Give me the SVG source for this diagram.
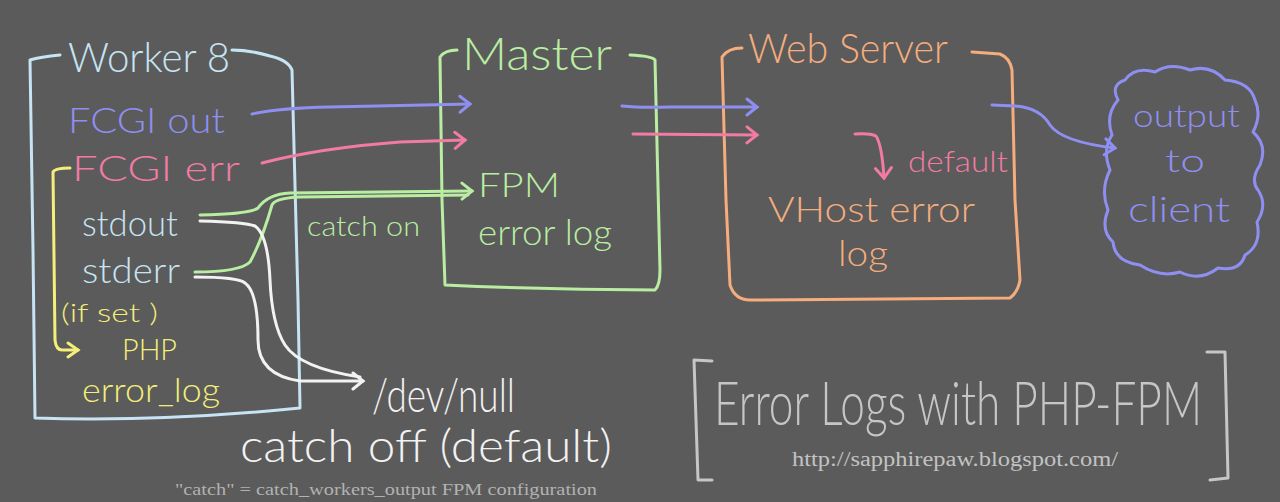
<svg xmlns="http://www.w3.org/2000/svg" width="1280" height="502" viewBox="0 0 1280 502">
<style>
.s{fill:none;stroke-width:3;stroke-linecap:round;stroke-linejoin:round}
.t{font-family:Lato,"Open Sans","Liberation Sans",sans-serif;font-weight:300}
.blue{stroke:#c6e4f3}.purple{stroke:#8f8ff2}.pink{stroke:#f27ba3}.green{stroke:#b9eea2}.orange{stroke:#f5ad7d}.yellow{stroke:#f4ef7a}.white{stroke:#f2f2f2}.gray{stroke:#c6c6c6}
.fblue{fill:#c6e4f3}.fpurple{fill:#8f8ff2}.fpink{fill:#f27ba3}.fgreen{fill:#b9eea2}.forange{fill:#f5ad7d}.fyellow{fill:#f4ef7a}.fwhite{fill:#f2f2f2}.fgray{fill:#c6c6c6}
</style>
<defs>
<marker id="aP" markerUnits="userSpaceOnUse" markerWidth="24" markerHeight="24" refX="12" refY="10" orient="auto"><path d="M2,2 L12,10 L2,18" fill="none" stroke="#8f8ff2" stroke-width="3" stroke-linecap="round"/></marker>
<marker id="aK" markerUnits="userSpaceOnUse" markerWidth="24" markerHeight="24" refX="12" refY="10" orient="auto"><path d="M2,2 L12,10 L2,18" fill="none" stroke="#f27ba3" stroke-width="3" stroke-linecap="round"/></marker>
<marker id="aG" markerUnits="userSpaceOnUse" markerWidth="24" markerHeight="24" refX="12" refY="10" orient="auto"><path d="M2,2 L12,10 L2,18" fill="none" stroke="#b9eea2" stroke-width="3" stroke-linecap="round"/></marker>
<marker id="aW" markerUnits="userSpaceOnUse" markerWidth="24" markerHeight="24" refX="12" refY="10" orient="auto"><path d="M2,2 L12,10 L2,18" fill="none" stroke="#f2f2f2" stroke-width="3" stroke-linecap="round"/></marker>
<marker id="aY" markerUnits="userSpaceOnUse" markerWidth="24" markerHeight="24" refX="12" refY="10" orient="auto"><path d="M2,3 L12,10 L2,17" fill="none" stroke="#f4ef7a" stroke-width="3" stroke-linecap="round"/></marker>
</defs>
<rect width="1280" height="502" fill="#5b5b5b"/>

<g id="worker">
<path class="s blue" d="M60,55 Q40,57 30,60 L33,250 L35,418 Q160,422 300,408 L298,300 L292,70 Q288,60 270,56 Q250,50 232,50"/>
<text class="t fblue" x="68" y="72" font-size="42" textLength="162" lengthAdjust="spacingAndGlyphs">Worker 8</text>
<text class="t fpurple" x="68" y="133" font-size="36" textLength="157" lengthAdjust="spacingAndGlyphs">FCGI out</text>
<text class="t fpink" x="72" y="181" font-size="36" textLength="168" lengthAdjust="spacingAndGlyphs">FCGI err</text>
<text class="t fblue" x="82" y="236" font-size="36" textLength="96" lengthAdjust="spacingAndGlyphs">stdout</text>
<text class="t fblue" x="82" y="283" font-size="36" textLength="98" lengthAdjust="spacingAndGlyphs">stderr</text>
<text class="t fyellow" x="61" y="322" font-size="26" textLength="97" lengthAdjust="spacingAndGlyphs">(if set )</text>
<text class="t fyellow" x="122" y="360" font-size="30" textLength="55" lengthAdjust="spacingAndGlyphs">PHP</text>
<text class="t fyellow" x="82" y="402" font-size="34" textLength="138" lengthAdjust="spacingAndGlyphs">error_log</text>
</g>

<g id="master">
<path class="s green" d="M457,50 Q445,50 440,57 L442,200 L445,285 Q550,290 655,290 Q660,285 660,270 L655,60 Q652,56 630,55"/>
<text class="t fgreen" x="462" y="70" font-size="46" textLength="150" lengthAdjust="spacingAndGlyphs">Master</text>
<text class="t fgreen" x="478" y="197" font-size="34" textLength="82" lengthAdjust="spacingAndGlyphs">FPM</text>
<text class="t fgreen" x="478" y="245" font-size="36" textLength="134" lengthAdjust="spacingAndGlyphs">error log</text>
</g>

<g id="webserver">
<path class="s orange" d="M742,48 Q728,48 722,57 L726,200 L730,285 Q735,300 750,300 L1010,298 Q1018,292 1020,280 L1015,200 L1012,70 Q1010,58 1000,54 L972,52"/>
<text class="t forange" x="748" y="63" font-size="42" textLength="200" lengthAdjust="spacingAndGlyphs">Web Server</text>
<text class="t fpink" x="908" y="172" font-size="30" textLength="100" lengthAdjust="spacingAndGlyphs">default</text>
<text class="t forange" x="768" y="222" font-size="35" textLength="207" lengthAdjust="spacingAndGlyphs">VHost error</text>
<text class="t forange" x="838" y="266" font-size="35" textLength="50" lengthAdjust="spacingAndGlyphs">log</text>
</g>

<g id="client">
<path class="s purple" d="M1118,100 Q1110,85 1125,80 Q1135,66 1155,72 Q1170,62 1190,70 Q1210,64 1225,80 Q1250,82 1255,100 Q1262,115 1253,132 Q1268,145 1260,165 Q1250,180 1258,190 Q1268,205 1257,222 Q1262,245 1245,255 Q1240,272 1218,268 Q1200,282 1180,272 Q1160,278 1140,265 Q1115,262 1113,242 Q1100,230 1108,210 Q1100,190 1110,170 Q1102,150 1112,135 Q1105,115 1118,100 Z"/>
<text class="t fpurple" x="1133" y="127" font-size="32" textLength="107" lengthAdjust="spacingAndGlyphs">output</text>
<text class="t fpurple" x="1165" y="172" font-size="32" textLength="40" lengthAdjust="spacingAndGlyphs">to</text>
<text class="t fpurple" x="1128" y="222" font-size="36" textLength="102" lengthAdjust="spacingAndGlyphs">client</text>
</g>

<g id="devnull">
<text class="t fwhite" x="372" y="412" font-size="48" textLength="143" lengthAdjust="spacingAndGlyphs">/dev/null</text>
<text class="t fwhite" x="240" y="462" font-size="46" textLength="372" lengthAdjust="spacingAndGlyphs">catch off (default)</text>
</g>

<g id="title">
<path class="s gray" d="M712,361 L694,360 L698,480 L712,480 M1207,352 L1225,352 L1228,478 L1210,480"/>
<text class="t fgray" x="714" y="425" font-size="62" textLength="488" lengthAdjust="spacingAndGlyphs">Error Logs with PHP-FPM</text>
<text x="792" y="466" font-family="'Liberation Serif',serif" font-size="20" fill="#c2c2c2" textLength="326" lengthAdjust="spacingAndGlyphs">http://sapphirepaw.blogspot.com/</text>
</g>

<text x="175" y="495" font-family="'Liberation Serif',serif" font-size="17" fill="#b2b2b2" textLength="422" lengthAdjust="spacingAndGlyphs">"catch" = catch_workers_output FPM configuration</text>

<g id="connectors">
<path class="s purple" d="M252,114 Q280,108 330,107 L470,104" marker-end="url(#aP)"/>
<path class="s purple" d="M622,106 Q640,108 670,107 L757,107" marker-end="url(#aP)"/>
<path class="s purple" d="M992,105 L1015,106 Q1040,108 1050,125 Q1062,142 1115,148" marker-end="url(#aP)"/>
<path class="s pink" d="M262,163 Q320,148 400,142 L465,140" marker-end="url(#aK)"/>
<path class="s pink" d="M633,134 L757,135" marker-end="url(#aK)"/>
<path class="s pink" d="M855,134 Q870,133 876,136 Q882,145 884,178" marker-end="url(#aK)"/>
<path class="s green" d="M200,215 Q250,214 258,208 Q268,194 290,193 L472,191" marker-end="url(#aG)"/>
<path class="s green" d="M195,272 Q240,272 250,262 Q262,240 272,205 Q275,198 300,197 L468,195"/>
<text class="t fgreen" x="307" y="236" font-size="28" textLength="113" lengthAdjust="spacingAndGlyphs">catch on</text>
<path class="s white" d="M200,221 Q245,222 255,226 Q268,235 270,280 Q272,325 285,345 Q300,368 360,377"/>
<path class="s white" d="M195,277 Q238,277 245,283 Q258,292 258,340 Q258,375 300,381 L363,381" marker-end="url(#aW)"/>
<path class="s yellow" d="M70,168 Q55,168 53,172 L55,340 Q56,350 62,350 L78,350" marker-end="url(#aY)"/>
</g>
</svg>
